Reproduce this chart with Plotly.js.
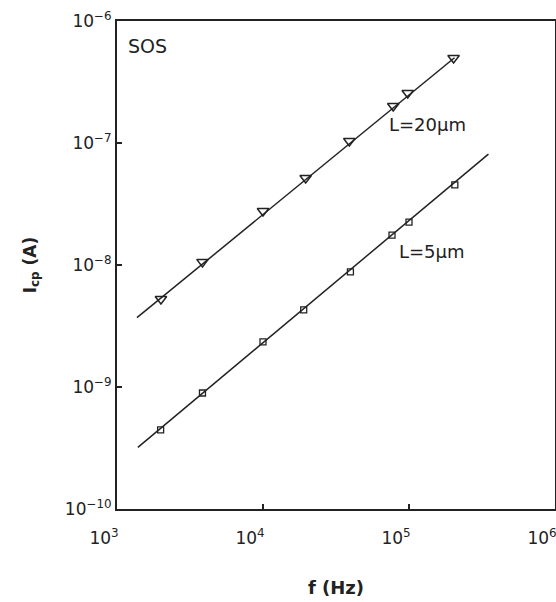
<!DOCTYPE html>
<html>
<head>
<meta charset="utf-8">
<script src="https://cdn.plot.ly/plotly-3.0.1.min.js"></script>
<style>html,body{margin:0;padding:0;background:#fff;}#chart{width:556px;height:602px;}</style>
</head>
<body>
<div id="chart"></div>
<script>
// Measured data: charge-pumping current vs frequency (SOS)
const freq20 = [2000, 3850, 10000, 19600, 39000, 78000, 98000, 202000];
const icp20 = [5.26e-9, 1.06e-8, 2.77e-8, 5.16e-8, 1.04e-7, 2.01e-7, 2.57e-7, 4.97e-7];
const freq5 = [1990, 3850, 10000, 19000, 39700, 76500, 100000, 206000];
const icp5 = [4.45e-10, 8.93e-10, 2.34e-9, 4.28e-9, 8.77e-9, 1.76e-8, 2.25e-8, 4.53e-8];
// Drawn fit lines (end points)
const fit20X = [1370, 205000];
const fit20Y = [3.7e-9, 5.0e-7];
const fit5X = [1390, 350000];
const fit5Y = [3.2e-10, 8.1e-8];
// Tick labels
const xTickVals = [1e3, 1e4, 1e5, 1e6];
const xTickText = ['10<sup>3</sup>', '10<sup>4</sup>', '10<sup>5</sup>', '10<sup>6</sup>'];
const yTickVals = [1e-10, 1e-9, 1e-8, 1e-7, 1e-6];
const yTickText = ['10<sup>−10</sup>', '10<sup>−9</sup>', '10<sup>−8</sup>', '10<sup>−7</sup>', '10<sup>−6</sup>'];
const seriesLabels = ['L=20µm', 'L=5µm'];

const ink = '#222';
const font = 'DejaVu Sans, sans-serif';

const traces = [
  {x: fit20X, y: fit20Y, mode: 'lines', line: {color: ink, width: 1.5}, showlegend: false, hoverinfo: 'skip'},
  {x: fit5X, y: fit5Y, mode: 'lines', line: {color: ink, width: 1.5}, showlegend: false, hoverinfo: 'skip'},
  {x: freq20, y: icp20, mode: 'markers', name: seriesLabels[0], showlegend: false,
   marker: {symbol: 'triangle-down-open', size: 10, color: ink, line: {width: 1.5, color: ink}}},
  {x: freq5, y: icp5, mode: 'markers', name: seriesLabels[1], showlegend: false,
   marker: {symbol: 'square-open', size: 6, color: ink, line: {width: 1.3, color: ink}}}
];

const layout = {
  width: 556, height: 602,
  margin: {l: 117, r: 1, t: 21, b: 93},
  paper_bgcolor: '#fff', plot_bgcolor: '#fff',
  font: {family: font, color: ink, size: 17},
  xaxis: {
    type: 'log', range: [3, 6],
    tickvals: xTickVals, ticktext: xTickText,
    ticks: 'inside', ticklen: 5, tickwidth: 1.2, tickcolor: ink,
    showline: true, linewidth: 2, linecolor: ink, mirror: true,
    showgrid: false, zeroline: false,
    tickfont: {family: font, size: 17, color: ink},
    ticklabelshift: -13, ticklabelstandoff: 13, ticklabeloverflow: 'allow',
    title: {text: '<b>f (Hz)</b>', font: {family: font, size: 18, color: ink}, standoff: 34}
  },
  yaxis: {
    type: 'log', range: [-10, -6],
    tickvals: yTickVals, ticktext: yTickText,
    ticks: 'inside', ticklen: 5, tickwidth: 1.2, tickcolor: ink,
    showline: true, linewidth: 2, linecolor: ink, mirror: true,
    showgrid: false, zeroline: false,
    tickfont: {family: font, size: 17, color: ink},
    title: {text: '<b>I<sub>cp</sub> (A)</b>', font: {family: font, size: 17, color: ink}, standoff: 24}
  },
  annotations: [
    {xref: 'paper', yref: 'paper', x: 0.021, y: 0.949, xanchor: 'left', yanchor: 'middle',
     text: 'SOS', showarrow: false, font: {family: font, size: 19, color: ink}},
    {x: 4.85, y: -6.852, xanchor: 'left', yanchor: 'middle', text: seriesLabels[0], showarrow: false,
     font: {family: font, size: 18, color: ink}},
    {x: 4.918, y: -7.893, xanchor: 'left', yanchor: 'middle', text: seriesLabels[1], showarrow: false,
     font: {family: font, size: 18, color: ink}}
  ],
  showlegend: false
};

Plotly.newPlot('chart', traces, layout, {displayModeBar: false, staticPlot: true});
</script>
</body>
</html>
